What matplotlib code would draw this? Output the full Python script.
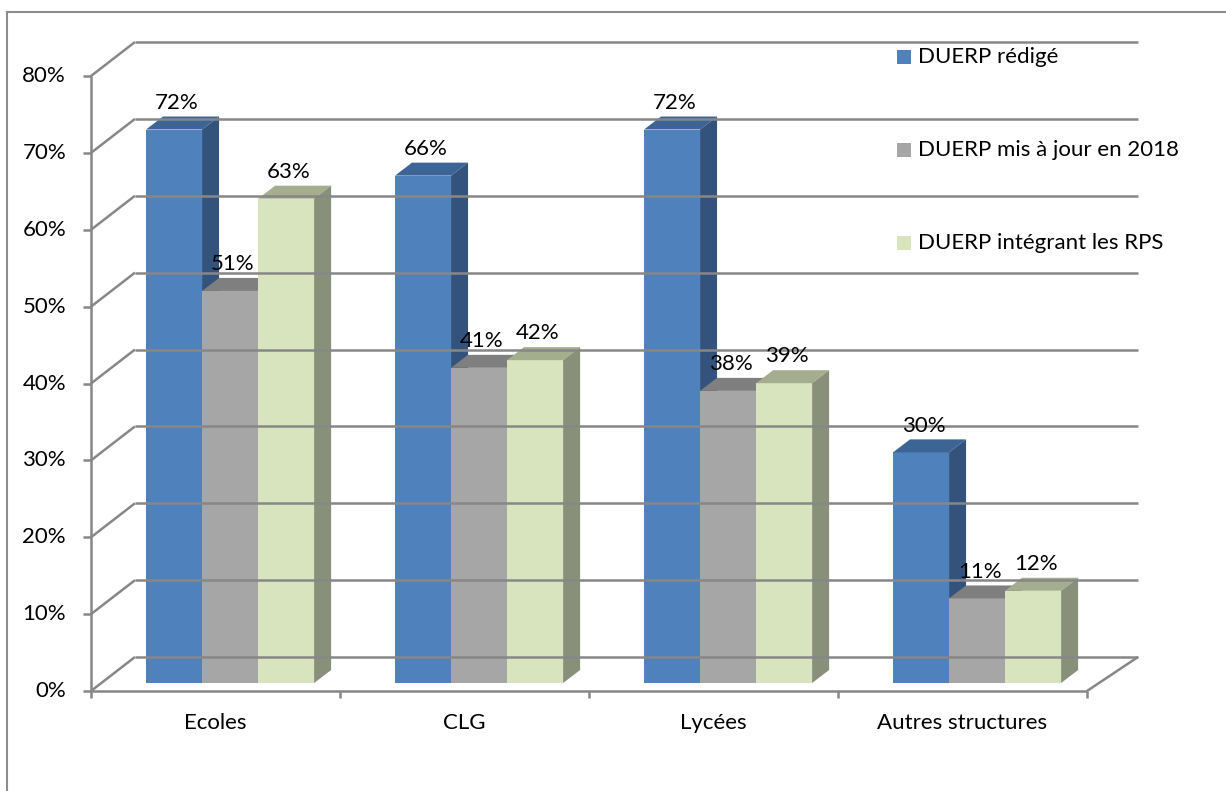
import matplotlib
matplotlib.use("Agg")
import matplotlib.pyplot as plt
from matplotlib.patches import Polygon, Rectangle
from matplotlib.lines import Line2D

plt.rcParams['font.family'] = ['Lato', 'DejaVu Sans']

# data
categories = ['Ecoles', 'CLG', 'Lycées', 'Autres structures']
series_names = ['DUERP rédigé', 'DUERP mis à jour en 2018', 'DUERP intégrant les RPS']
redige = [72, 66, 72, 30]
mis_a_jour = [51, 41, 38, 11]
integrant_rps = [63, 42, 39, 12]
y_ticks = [0, 10, 20, 30, 40, 50, 60, 70, 80]

# face colours: front, top, side
front_cols = ['#4F81BD', '#A6A6A6', '#D7E4BD']
top_cols = ['#3C6494', '#7F7F7F', '#A4AD8E']
side_cols = ['#34537C', '#8C8C8C', '#899079']
grid_col = '#878787'
FS = 16

W, H = 1226, 791
fig = plt.figure(figsize=(W / 100, H / 100), dpi=100)
ax = fig.add_axes([91 / W, (H - 691) / H, 996 / W, 615 / H])
ax.set_xlim(0, 4)
ax.set_ylim(0, 80)
ax.axis('off')

# depth of the plot box (wall offset) and of each bar
DX, DY = 44 / 249, 34 / 7.6875
DX_R = 51 / 249
BDX, BDY = 17 / 249, 13 / 7.6875
base_y = 0.235 * DY
bar_w = 0.225
bar_x0 = 0.221

kw = dict(color=grid_col, lw=1.8, clip_on=False, solid_capstyle='butt')

# walls: diagonal side lines + back gridlines
for t in y_ticks:
    ax.plot([0, DX], [t, t + DY], **kw)
    ax.plot([DX, 4 + DX_R], [t + DY, t + DY], **kw)
    ax.plot([-0.032, 0], [t, t], **kw)
    ax.text(-0.1, t, f'{t}%', ha='right', va='center', fontsize=FS)
ax.plot([0, 0], [0, 80], **kw)
ax.plot([0, 4], [0, 0], **kw)
ax.plot([4, 4 + DX_R], [0, DY], **kw)
for i in range(5):
    ax.plot([i, i], [0, -0.95], **kw)

# bars
series = [redige, mis_a_jour, integrant_rps]
for i, cat in enumerate(categories):
    for j, vals in enumerate(series):
        v = vals[i]
        x0 = i + bar_x0 + j * bar_w
        x1 = x0 + bar_w
        y0, y1 = base_y, base_y + v
        ax.add_patch(Polygon([(x0, y0), (x1, y0), (x1, y1), (x0, y1)],
                             closed=True, fc=front_cols[j], ec='none', clip_on=False))
        ax.add_patch(Polygon([(x0, y1), (x1, y1), (x1 + BDX, y1 + BDY), (x0 + BDX, y1 + BDY)],
                             closed=True, fc=top_cols[j], ec='none', clip_on=False))
        ax.add_patch(Polygon([(x1, y0), (x1 + BDX, y0 + BDY), (x1 + BDX, y1 + BDY), (x1, y1)],
                             closed=True, fc=side_cols[j], ec='none', clip_on=False))
        ax.text((x0 + x1) / 2 + 0.01, y1 + BDY + 0.5, f'{v}%',
                ha='center', va='bottom', fontsize=FS)
    ax.text(i + 0.5, -4.2, cat, ha='center', va='center', fontsize=FS)

# legend
for k, name in enumerate(series_names):
    yc = [57, 150, 243][k]
    fig.add_artist(Rectangle((897 / W, 1 - (yc + 7) / H), 14 / W, 14 / H,
                             transform=fig.transFigure, fc=front_cols[k], ec='none'))
    fig.text(918 / W, 1 - yc / H, name, ha='left', va='center', fontsize=FS)

# outer frame
fig.add_artist(Line2D([7 / W, 7 / W], [0, 1 - 12 / H], transform=fig.transFigure,
                      color='#8C8C8C', lw=1.5))
fig.add_artist(Line2D([7 / W, 1], [1 - 12 / H, 1 - 12 / H], transform=fig.transFigure,
                      color='#8C8C8C', lw=1.5))

fig.savefig('out.png', dpi=100)
